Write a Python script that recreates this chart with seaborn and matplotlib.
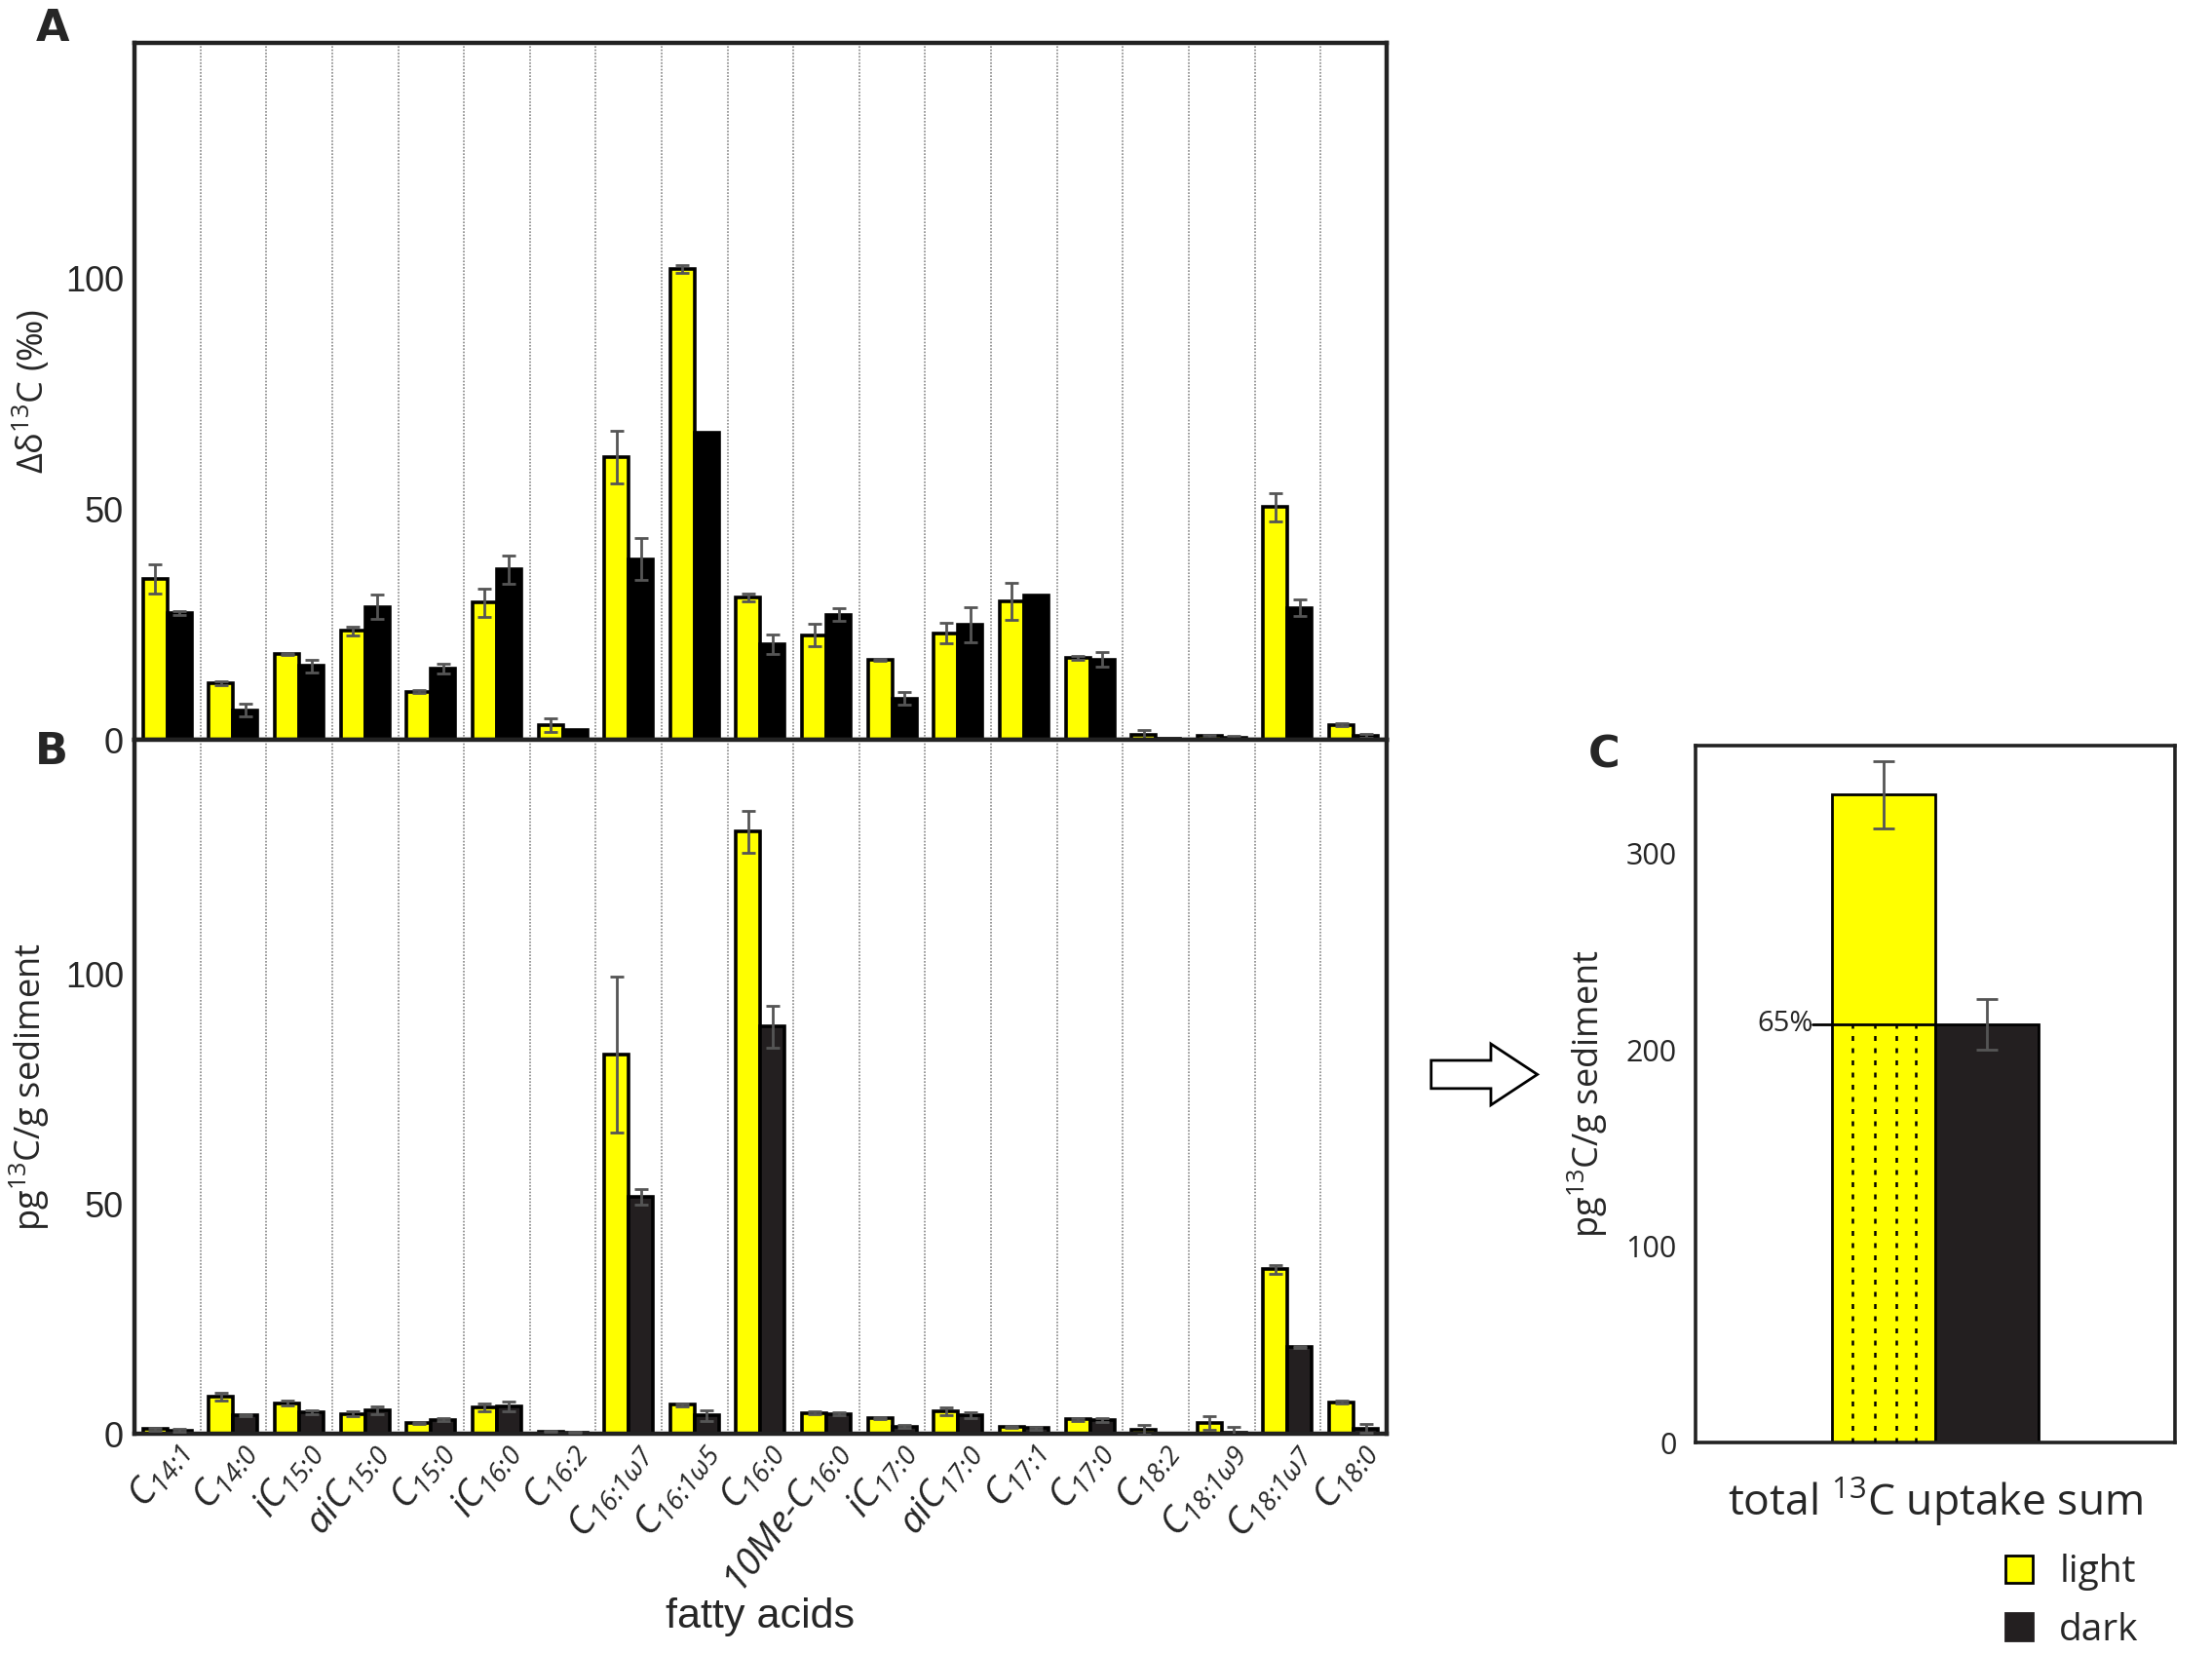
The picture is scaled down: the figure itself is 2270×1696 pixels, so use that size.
import numpy as np
import pandas as pd
import matplotlib
matplotlib.use("Agg")
import matplotlib.pyplot as plt
import seaborn as sns
from matplotlib.patches import Patch, FancyArrow

# 1. Data
fatty_acids = [r"C$_{14\!:\!1}$", r"C$_{14\!:\!0}$", r"iC$_{15\!:\!0}$", r"aiC$_{15\!:\!0}$",
               r"C$_{15\!:\!0}$", r"iC$_{16\!:\!0}$", r"C$_{16\!:\!2}$", r"C$_{16\!:\!1\omega7}$",
               r"C$_{16\!:\!1\omega5}$", r"C$_{16\!:\!0}$", r"10Me-C$_{16\!:\!0}$",
               r"iC$_{17\!:\!0}$", r"aiC$_{17\!:\!0}$", r"C$_{17\!:\!1}$", r"C$_{17\!:\!0}$",
               r"C$_{18\!:\!2}$", r"C$_{18\!:\!1\omega9}$", r"C$_{18\!:\!1\omega7}$", r"C$_{18\!:\!0}$"]

# panel A: delta d13C (permil)
d13c_light = [34.9, 12.3, 18.6, 23.6, 10.4, 29.7, 3.2, 61.2, 102.0, 30.8,
              22.7, 17.4, 23.1, 30.0, 17.8, 1.0, 0.8, 50.4, 3.3]
d13c_light_err = [3.2, 0.4, 0.2, 0.9, 0.3, 3.1, 1.4, 5.7, 0.8, 0.8,
                  2.4, 0.2, 2.2, 4.0, 0.4, 1.2, 0.3, 3.1, 0.4]
d13c_dark = [27.5, 6.4, 16.0, 28.8, 15.4, 36.9, 2.1, 39.2, 66.5, 20.7,
             27.1, 9.0, 24.9, 31.2, 17.4, 0.2, 0.5, 28.6, 0.8]
d13c_dark_err = [0.5, 1.4, 1.4, 2.6, 1.1, 3.1, 0.0, 4.5, 0.0, 2.1,
                 1.4, 1.4, 3.8, 0.0, 1.6, 0.0, 0.3, 1.8, 0.4]

# panel B: pg 13C / g sediment
upt_light = [1.1, 8.1, 6.7, 4.4, 2.4, 5.8, 0.5, 82.5, 6.4, 131.0,
             4.6, 3.5, 4.9, 1.6, 3.2, 0.9, 2.4, 35.8, 6.9]
upt_light_err = [0.3, 0.9, 0.5, 0.5, 0.3, 0.9, 0.1, 17.0, 0.3, 4.5,
                 0.4, 0.2, 0.8, 0.2, 0.3, 1.1, 1.5, 0.9, 0.3]
upt_dark = [0.8, 4.1, 4.7, 5.2, 3.1, 6.0, 0.35, 51.5, 4.0, 88.6,
            4.4, 1.6, 4.1, 1.3, 3.0, 0.1, 0.3, 18.9, 1.2]
upt_dark_err = [0.3, 0.3, 0.5, 0.8, 0.3, 1.0, 0.1, 1.7, 1.2, 4.5,
                0.4, 0.3, 0.6, 0.3, 0.5, 0.0, 1.2, 0.2, 1.0]

# panel C: total uptake sum
total_light, total_light_err = 330.0, 17.0
total_dark, total_dark_err = 213.0, 13.0

conditions = ["light", "dark"]
yellow = "#FFFF00"
dark_a = "#000000"
dark_b = "#231F20"
err_col = "#555555"

sns.set_theme(style="white")
plt.rcParams["font.family"] = ["Open Sans", "DejaVu Sans"]
plt.rcParams["mathtext.default"] = "regular"
narrow = ["Liberation Sans", "DejaVu Sans"]

fig = plt.figure(figsize=(11.35, 8.48), dpi=200)
axA = fig.add_axes([0.0608, 0.5524, 0.5660, 0.4216])
axB = fig.add_axes([0.0608, 0.1325, 0.5660, 0.4199])
axC = fig.add_axes([0.7665, 0.1273, 0.2167, 0.4217])


def long_df(light, dark, light_err, dark_err):
    return pd.DataFrame({
        "fa": fatty_acids * 2,
        "cond": ["light"] * len(fatty_acids) + ["dark"] * len(fatty_acids),
        "val": list(light) + list(dark),
        "err": list(light_err) + list(dark_err),
    })


def grouped_panel(ax, df, dark_col):
    sns.barplot(data=df, x="fa", y="val", hue="cond", hue_order=conditions,
                palette={"light": yellow, "dark": dark_col}, errorbar=None, saturation=1,
                width=0.74, edgecolor="black", linewidth=1.3, ax=ax, legend=False)
    # error bars at the centres of the bars seaborn drew
    bars = ax.patches[:len(df)]
    xs = np.array([b.get_x() + b.get_width() / 2 for b in bars])
    ys = np.array([b.get_height() for b in bars])
    mask = df["err"].values > 0
    ax.errorbar(xs[mask], ys[mask], yerr=df["err"].values[mask],
                fmt="none", ecolor=err_col, elinewidth=1.0, capsize=2.5, capthick=1.0, zorder=5)
    for i in range(len(fatty_acids) - 1):
        ax.axvline(i + 0.5, color="#888888", linestyle=(0, (1, 1)), linewidth=0.6, zorder=0)
    ax.set_xlim(-0.5, len(fatty_acids) - 0.5)
    ax.set_ylim(0, 151)
    ax.set_yticks([0, 50, 100])
    ax.tick_params(axis="y", direction="in", length=5, width=1.3, labelsize=13, pad=4)
    for lab in ax.get_yticklabels():
        lab.set_family(narrow)
    for s in ax.spines.values():
        s.set_linewidth(1.6)
        s.set_color("#222222")


# 2. Panel A
dfA = long_df(d13c_light, d13c_dark, d13c_light_err, d13c_dark_err)
grouped_panel(axA, dfA, dark_a)
axA.set_xticks([])
axA.set_xlabel("")
axA.set_ylabel("Δδ$^{13}$C (‰)", fontsize=13, va="center")
axA.yaxis.set_label_coords(-0.082, 0.5)

# 3. Panel B
dfB = long_df(upt_light, upt_dark, upt_light_err, upt_dark_err)
grouped_panel(axB, dfB, dark_b)
axB.set_xticks(range(len(fatty_acids)))
axB.set_xticklabels(fatty_acids, rotation=53, ha="right", rotation_mode="anchor",
                    fontsize=14, fontstyle="italic")
axB.tick_params(axis="x", length=0, pad=0)
axB.set_xlabel("fatty acids", fontsize=15.5, family=narrow, va="center")
axB.xaxis.set_label_coords(0.5, -0.264)
axB.set_ylabel("pg$^{13}$C/g sediment", fontsize=13, va="center")
axB.yaxis.set_label_coords(-0.084, 0.5)

# 4. Panel C
dfC = pd.DataFrame({"grp": ["total", "total"], "cond": conditions,
                    "val": [total_light, total_dark], "err": [total_light_err, total_dark_err]})
sns.barplot(data=dfC, x="grp", y="val", hue="cond", hue_order=conditions,
            palette={"light": yellow, "dark": dark_b}, errorbar=None, width=0.43, saturation=1,
            edgecolor="black", linewidth=1.0, ax=axC, legend=False)
barsC = axC.patches[:2]
cx = [b.get_x() + b.get_width() / 2 for b in barsC]
axC.errorbar(cx, dfC["val"], yerr=dfC["err"], fmt="none", ecolor=err_col,
             elinewidth=1.0, capsize=4, capthick=1.0, zorder=5)
lb = barsC[0]
share = total_dark / total_light
for f in [0.2, 0.41, 0.62, 0.81]:
    axC.plot([lb.get_x() + f * lb.get_width()] * 2, [0, total_dark], color="black",
             linestyle=(0, (2, 3)), linewidth=0.9, zorder=4)
x_line0 = lb.get_x() - 0.04
axC.plot([x_line0, lb.get_x() + lb.get_width()], [total_dark, total_dark],
         color="black", linewidth=1.0, zorder=4)
axC.text(x_line0, total_dark, f"{share:.0%}", ha="right", va="center", fontsize=10.5)
axC.set_xlim(-0.5, 0.5)
axC.set_ylim(0, 355)
axC.set_yticks([0, 100, 200, 300])
axC.set_xticks([])
axC.tick_params(axis="y", direction="inout", length=7, width=1.0, labelsize=11)
axC.set_xlabel("total $^{13}$C uptake sum", fontsize=16, labelpad=12)
axC.set_ylabel("pg$^{13}$C/g sediment", fontsize=13, labelpad=6)
for s in axC.spines.values():
    s.set_linewidth(1.3)
    s.set_color("#222222")

# 5. Decorations
for lab, x, y in [("A", 0.016, 0.995), ("B", 0.016, 0.558), ("C", 0.718, 0.556)]:
    fig.text(x, y, lab, fontsize=16, fontweight="bold", family="DejaVu Sans",
             ha="left", va="top")

fig.patches.append(FancyArrow(0.647, 0.350, 0.048, 0.0, width=0.017, head_width=0.037,
                              head_length=0.021, length_includes_head=True,
                              transform=fig.transFigure, facecolor="white",
                              edgecolor="black", linewidth=1.0, figure=fig))

handles = [Patch(facecolor=yellow, edgecolor="black", label="light"),
           Patch(facecolor=dark_b, edgecolor=dark_b, label="dark")]
fig.legend(handles=handles, loc="upper left", bbox_to_anchor=(0.9066, 0.060), frameon=False,
           fontsize=14, handlelength=0.72, handleheight=0.72, handletextpad=0.7,
           labelspacing=0.55, borderpad=0, borderaxespad=0)

fig.savefig("out.png", dpi=200, facecolor="white")
